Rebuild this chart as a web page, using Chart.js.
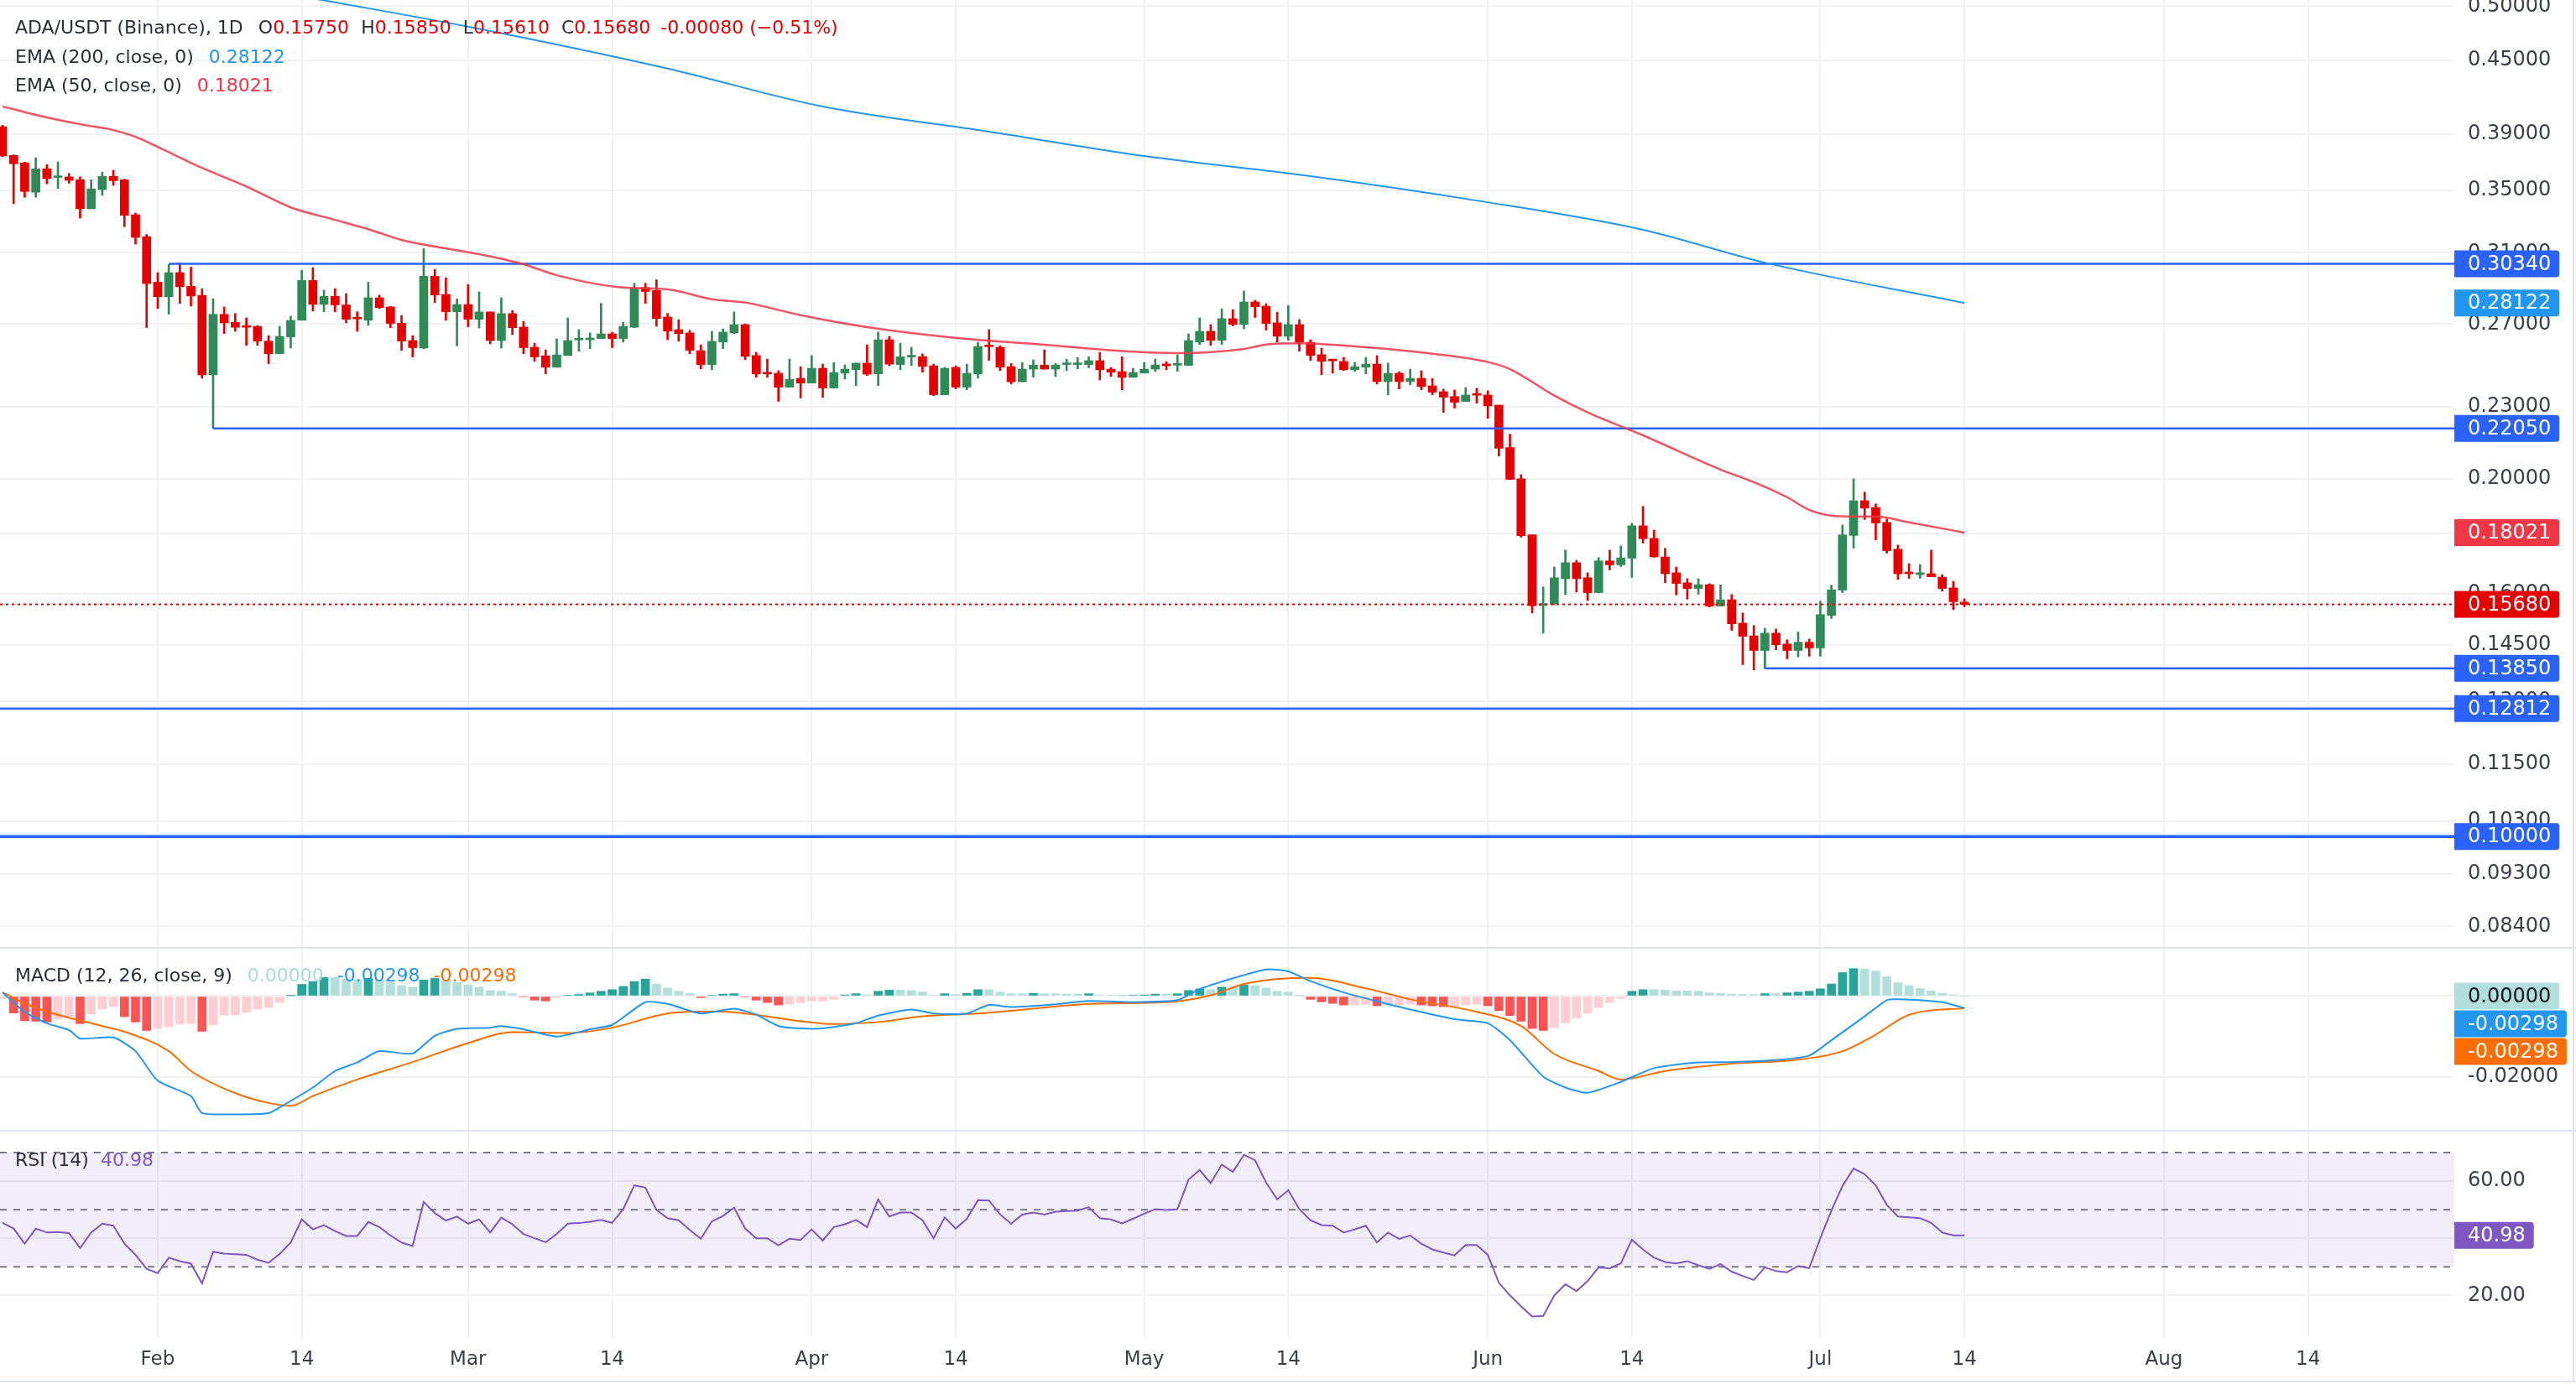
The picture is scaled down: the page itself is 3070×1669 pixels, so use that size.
<!DOCTYPE html>
<html>
<head>
<meta charset="utf-8">
<title>ADA/USDT (Binance) 1D</title>
<script src="https://cdn.jsdelivr.net/npm/chart.js@4.4.1/dist/chart.umd.min.js"></script>
<style>
html,body{margin:0;padding:0;background:#ffffff;}
#wrap{position:relative;width:3070px;height:1669px;overflow:hidden;background:#ffffff;font-family:"DejaVu Sans",sans-serif;}
canvas.pane{position:absolute;left:0;}
.leg{position:absolute;left:18px;font-size:22px;line-height:22px;color:#2a2e39;white-space:nowrap;}
.leg span{margin-left:14px;}
.leg b{font-weight:normal;}
.r{color:#e60000;}
.sep{position:absolute;left:0;width:3070px;height:2px;background:#e0e3eb;}
</style>
</head>
<body>
<div id="wrap">
  <canvas id="cPrice" class="pane" width="3070" height="1130" style="top:0px"></canvas>
  <canvas id="cMacd" class="pane" width="3070" height="216" style="top:1131px"></canvas>
  <canvas id="cRsi" class="pane" width="3070" height="298" style="top:1349px"></canvas>
  <div class="sep" style="top:1129px"></div>
  <div class="sep" style="top:1347px"></div>
  <div class="sep" style="top:1646px;height:2px"></div>
  <div style="position:absolute;left:3066px;top:0;width:2px;height:1648px;background:#e0e3eb"></div>

  <div class="leg" style="top:22px">ADA/USDT (Binance), 1D<span style="margin-left:18px">O<b class="r">0.15750</b></span><span>H<b class="r">0.15850</b></span><span>L<b class="r">0.15610</b></span><span>C<b class="r">0.15680</b></span><span class="r" style="margin-left:12px">-0.00080 (−0.51%)</span></div>
  <div class="leg" style="top:57px">EMA (200, close, 0)<span style="margin-left:18px;color:#2196f3">0.28122</span></div>
  <div class="leg" style="top:91px">EMA (50, close, 0)<span style="margin-left:18px;color:#f23645">0.18021</span></div>
  <div class="leg" style="top:1152px">MACD (12, 26, close, 9)<span style="margin-left:18px;color:#a8ddd4">0.00000</span><span style="margin-left:16px;color:#2196f3">-0.00298</span><span style="margin-left:16px;color:#ff6d00">-0.00298</span></div>
  <div class="leg" style="top:1372px">RSI (14)<span style="margin-left:14px;color:#7e57c2">40.98</span></div>
</div>
<script>
// ---------- DATA (day index 0 = Jan 18, one candle per day) ----------
const opens = [0.3958,0.3744,0.3690,0.3486,0.3648,0.3587,0.3591,0.3571,0.3376,0.3504,
0.3595,0.3571,0.3337,0.3198,0.2928,0.2847,0.2983,0.2905,0.2854,0.2447,
0.2751,0.2709,0.2690,0.2688,0.2612,0.2549,0.2633,0.2720,0.2938,0.2805,
0.2849,0.2802,0.2732,0.2720,0.2841,0.2791,0.2704,0.2615,0.2577,0.2962,
0.2859,0.2765,0.2804,0.2725,0.2764,0.2615,0.2755,0.2684,0.2581,0.2539,
0.2483,0.2540,0.2618,0.2619,0.2625,0.2649,0.2625,0.2683,0.2898,0.2881,
0.2737,0.2671,0.2654,0.2564,0.2496,0.2607,0.2654,0.2697,0.2540,0.2458,
0.2454,0.2389,0.2430,0.2408,0.2478,0.2385,0.2455,0.2471,0.2503,0.2451,
0.2619,0.2496,0.2533,0.2534,0.2490,0.2354,0.2482,0.2389,0.2451,0.2589,
0.2581,0.2486,0.2414,0.2474,0.2493,0.2474,0.2496,0.2496,0.2496,0.2515,
0.2474,0.2462,0.2435,0.2455,0.2474,0.2499,0.2493,0.2492,0.2607,0.2662,
0.2616,0.2728,0.2698,0.2818,0.2795,0.2706,0.2637,0.2697,0.2606,0.2544,
0.2519,0.2511,0.2471,0.2483,0.2498,0.2415,0.2454,0.2415,0.2430,0.2395,
0.2368,0.2346,0.2324,0.2357,0.2353,0.2307,0.2125,0.2000,0.1794,0.1565,
0.1570,0.1648,0.1700,0.1651,0.1604,0.1706,0.1693,0.1715,0.1826,0.1782,
0.1719,0.1667,0.1635,0.1617,0.1629,0.1563,0.1582,0.1512,0.1475,0.1434,
0.1483,0.1452,0.1434,0.1457,0.1441,0.1535,0.1612,0.1792,0.1917,0.1892,
0.1838,0.1745,0.1669,0.1661,0.1664,0.1653,0.1619,0.1575];
const highs = [0.3969,0.3748,0.3695,0.3727,0.3678,0.3697,0.3615,0.3591,0.3571,0.3624,
0.3638,0.3575,0.3348,0.3212,0.2983,0.3030,0.3040,0.3015,0.2892,0.2836,
0.2791,0.2756,0.2732,0.2692,0.2640,0.2688,0.2741,0.2997,0.3012,0.2883,
0.2892,0.2864,0.2765,0.2928,0.2856,0.2794,0.2745,0.2640,0.3125,0.3002,
0.2953,0.2835,0.2915,0.2874,0.2764,0.2841,0.2772,0.2713,0.2602,0.2568,
0.2623,0.2732,0.2671,0.2654,0.2811,0.2658,0.2710,0.2922,0.2922,0.2942,
0.2756,0.2723,0.2667,0.2593,0.2662,0.2675,0.2764,0.2701,0.2556,0.2523,
0.2466,0.2523,0.2486,0.2540,0.2498,0.2506,0.2494,0.2503,0.2593,0.2658,
0.2636,0.2602,0.2581,0.2548,0.2498,0.2482,0.2490,0.2498,0.2606,0.2671,
0.2589,0.2501,0.2506,0.2519,0.2568,0.2501,0.2522,0.2530,0.2534,0.2556,
0.2482,0.2534,0.2478,0.2506,0.2523,0.2510,0.2543,0.2649,0.2732,0.2697,
0.2781,0.2776,0.2878,0.2827,0.2809,0.2763,0.2799,0.2723,0.2619,0.2577,
0.2519,0.2531,0.2506,0.2531,0.2540,0.2503,0.2462,0.2474,0.2466,0.2430,
0.2380,0.2376,0.2387,0.2384,0.2372,0.2307,0.2181,0.2016,0.1794,0.1622,
0.1686,0.1742,0.1708,0.1667,0.1717,0.1742,0.1756,0.1835,0.1896,0.1811,
0.1748,0.1686,0.1648,0.1648,0.1632,0.1629,0.1598,0.1542,0.1505,0.1497,
0.1495,0.1464,0.1486,0.1466,0.1578,0.1627,0.1829,0.2000,0.1949,0.1905,
0.1850,0.1759,0.1697,0.1694,0.1742,0.1661,0.1640,0.1585];
const lows = [0.3734,0.3409,0.3452,0.3452,0.3543,0.3511,0.3547,0.3315,0.3376,0.3465,
0.3533,0.3261,0.3153,0.2681,0.2783,0.2752,0.2810,0.2796,0.2431,0.2205,
0.2650,0.2662,0.2591,0.2591,0.2500,0.2549,0.2577,0.2720,0.2769,0.2765,
0.2765,0.2706,0.2662,0.2693,0.2783,0.2681,0.2566,0.2533,0.2573,0.2815,
0.2720,0.2588,0.2685,0.2679,0.2598,0.2577,0.2645,0.2549,0.2512,0.2451,
0.2483,0.2540,0.2561,0.2574,0.2625,0.2579,0.2607,0.2681,0.2810,0.2688,
0.2619,0.2612,0.2549,0.2475,0.2471,0.2574,0.2650,0.2520,0.2435,0.2435,
0.2324,0.2389,0.2339,0.2408,0.2342,0.2385,0.2427,0.2396,0.2443,0.2396,
0.2491,0.2471,0.2491,0.2459,0.2350,0.2354,0.2381,0.2377,0.2431,0.2516,
0.2467,0.2404,0.2414,0.2435,0.2474,0.2439,0.2467,0.2475,0.2480,0.2423,
0.2439,0.2377,0.2435,0.2455,0.2463,0.2471,0.2463,0.2492,0.2595,0.2591,
0.2595,0.2690,0.2675,0.2734,0.2668,0.2607,0.2616,0.2561,0.2516,0.2447,
0.2455,0.2467,0.2463,0.2451,0.2404,0.2354,0.2381,0.2400,0.2377,0.2354,
0.2275,0.2294,0.2324,0.2316,0.2249,0.2090,0.1998,0.1786,0.1542,0.1483,
0.1566,0.1598,0.1606,0.1580,0.1604,0.1676,0.1687,0.1652,0.1766,0.1718,
0.1635,0.1597,0.1584,0.1599,0.1560,0.1563,0.1491,0.1395,0.1381,0.1385,
0.1436,0.1411,0.1416,0.1418,0.1418,0.1526,0.1604,0.1749,0.1848,0.1777,
0.1732,0.1646,0.1649,0.1649,0.1654,0.1609,0.1552,0.1561];
const closes = [0.3740,0.3684,0.3491,0.3648,0.3579,0.3595,0.3567,0.3376,0.3508,0.3595,
0.3565,0.3333,0.3194,0.2920,0.2847,0.2983,0.2902,0.2851,0.2447,0.2751,
0.2706,0.2683,0.2683,0.2612,0.2549,0.2636,0.2719,0.2938,0.2805,0.2849,
0.2802,0.2725,0.2727,0.2841,0.2787,0.2703,0.2612,0.2579,0.2962,0.2856,
0.2765,0.2804,0.2725,0.2764,0.2615,0.2755,0.2681,0.2579,0.2533,0.2483,
0.2543,0.2615,0.2623,0.2627,0.2649,0.2625,0.2688,0.2894,0.2876,0.2729,
0.2663,0.2650,0.2566,0.2496,0.2611,0.2658,0.2697,0.2536,0.2451,0.2451,
0.2389,0.2426,0.2408,0.2478,0.2385,0.2458,0.2474,0.2503,0.2450,0.2619,
0.2498,0.2534,0.2538,0.2487,0.2354,0.2478,0.2389,0.2454,0.2585,0.2584,
0.2483,0.2414,0.2474,0.2493,0.2474,0.2493,0.2503,0.2503,0.2515,0.2471,
0.2459,0.2435,0.2458,0.2474,0.2494,0.2490,0.2498,0.2615,0.2662,0.2616,
0.2728,0.2698,0.2818,0.2792,0.2703,0.2637,0.2697,0.2607,0.2541,0.2512,
0.2514,0.2471,0.2486,0.2498,0.2415,0.2454,0.2415,0.2430,0.2392,0.2366,
0.2343,0.2320,0.2353,0.2352,0.2304,0.2122,0.1998,0.1791,0.1564,0.1570,
0.1651,0.1700,0.1648,0.1604,0.1706,0.1693,0.1716,0.1826,0.1781,0.1719,
0.1664,0.1633,0.1617,0.1629,0.1563,0.1582,0.1510,0.1474,0.1434,0.1483,
0.1450,0.1434,0.1457,0.1441,0.1537,0.1613,0.1794,0.1917,0.1890,0.1836,
0.1740,0.1664,0.1664,0.1667,0.1654,0.1617,0.1576,0.1568];

const ema50Days = [0,3,7,10,12,14,18,22,26,30,33,36,43,47,50,56,60,64,67,72,78,87,94,102,106,112,114,117,123,129,134,136,140,143,148,155,158,161,163,165,167,169,172,177];
const ema50 = [0.4117,0.4050,0.3977,0.3932,0.3881,0.3806,0.3654,0.3525,0.3385,0.3304,0.3245,0.3178,0.3091,0.3032,0.2968,0.2898,0.2888,0.2833,0.2815,0.2747,0.2684,0.2623,0.2594,0.2559,0.2552,0.2573,0.2595,0.2601,0.2581,0.2549,0.2508,0.2474,0.2350,0.2275,0.2176,0.2036,0.1987,0.1930,0.1883,0.1862,0.1859,0.1859,0.1838,0.18021];
const ema200Days = [28,42,60,74,89,103,118,133,148,159,177];
const ema200 = [0.5076,0.4805,0.4430,0.4116,0.3920,0.3739,0.3596,0.3430,0.3241,0.3041,0.28122];

const levelValues = [0.3034,0.2205,0.1385,0.12812,0.1000];
const levelStartDays = [15,19,159,-1,-1];

const macdDays = [0,2,4,6,7,10,12,14,17,18,21,24,25,28,30,32,34,37,39,41,44,45,47,50,53,55,58,60,63,66,68,70,72,74,77,79,82,84,87,89,91,95,98,102,106,108,111,114,116,118,121,124,127,131,134,136,139,141,143,146,149,153,156,160,163,165,168,170,171,175,177];
const macdVals = [0.0009,-0.0039,-0.0067,-0.0084,-0.0105,-0.0102,-0.0136,-0.0209,-0.0247,-0.0289,-0.0292,-0.0289,-0.0275,-0.0226,-0.0185,-0.0164,-0.0136,-0.0142,-0.0098,-0.0081,-0.0078,-0.0074,-0.0082,-0.0100,-0.0082,-0.0071,-0.0015,-0.0019,-0.0043,-0.0031,-0.0046,-0.0074,-0.0080,-0.0080,-0.0067,-0.0048,-0.0033,-0.0043,-0.0043,-0.0022,-0.0027,-0.0020,-0.0012,-0.0015,-0.0010,0.0017,0.0044,0.0066,0.0061,0.0037,0.0009,-0.0013,-0.0033,-0.0057,-0.0067,-0.0109,-0.0199,-0.0226,-0.0239,-0.0212,-0.0178,-0.0164,-0.0163,-0.0158,-0.0147,-0.0109,-0.0050,-0.0010,-0.0008,-0.0015,-0.00298];
const signalDays = [0,3,9,11,15,17,21,24,26,28,32,37,42,46,51,55,60,64,67,72,75,79,83,88,93,98,105,109,112,116,118,123,127,133,137,140,144,146,150,156,162,166,169,172,177];
const signalVals = [0.0009,-0.0029,-0.0074,-0.0088,-0.0136,-0.0185,-0.0240,-0.0264,-0.0271,-0.0247,-0.0206,-0.0163,-0.0116,-0.0089,-0.0091,-0.0078,-0.0043,-0.0038,-0.0043,-0.0062,-0.0069,-0.0064,-0.0050,-0.0043,-0.0031,-0.0019,-0.0015,0.0002,0.0030,0.0044,0.0045,0.0019,-0.0008,-0.0039,-0.0074,-0.0143,-0.0185,-0.0206,-0.0185,-0.0167,-0.0157,-0.0136,-0.0095,-0.0046,-0.00298];
const histVals = [-0.0006,-0.0042,-0.0061,-0.0062,-0.0064,-0.0057,-0.0051,-0.0068,-0.0044,-0.0032,
-0.0026,-0.0051,-0.0064,-0.0085,-0.0080,-0.0076,-0.0069,-0.0068,-0.0087,-0.0071,
-0.0047,-0.0046,-0.0040,-0.0032,-0.0028,-0.0016,0.0001,0.0029,0.0036,0.0046,
0.0046,0.0042,0.0040,0.0044,0.0040,0.0034,0.0026,0.0022,0.0040,0.0044,
0.0038,0.0034,0.0028,0.0022,0.0014,0.0012,0.0006,-0.0002,-0.0010,-0.0012,
-0.0004,0.0002,0.0004,0.0008,0.0012,0.0016,0.0024,0.0036,0.0042,0.0030,
0.0020,0.0012,0.0006,-0.0004,0.0002,0.0005,0.0006,-0.0002,-0.0010,-0.0016,
-0.0022,-0.0020,-0.0016,-0.0012,-0.0012,-0.0008,0.0003,0.0006,0.0003,0.0012,
0.0015,0.0015,0.0014,0.0010,0.0002,0.0006,0.0004,0.0007,0.0016,0.0016,
0.0010,0.0006,0.0006,0.0007,0.0006,0.0006,0.0005,0.0005,0.0006,0.0003,
0.0002,0.0001,0.0002,0.0003,0.0005,0.0005,0.0006,0.0014,0.0018,0.0016,
0.0022,0.0022,0.0028,0.0026,0.0020,0.0012,0.0010,0.0001,-0.0008,-0.0014,
-0.0018,-0.0022,-0.0022,-0.0020,-0.0024,-0.0022,-0.0022,-0.0020,-0.0022,-0.0024,
-0.0026,-0.0026,-0.0022,-0.0020,-0.0024,-0.0036,-0.0048,-0.0062,-0.0080,-0.0085,
-0.0078,-0.0066,-0.0054,-0.0042,-0.0028,-0.0016,-0.0006,0.0012,0.0016,0.0016,
0.0015,0.0013,0.0013,0.0012,0.0008,0.0007,0.0005,0.0004,0.0004,0.0006,
0.0006,0.0008,0.0010,0.0012,0.0018,0.0030,0.0058,0.0068,0.0067,0.0062,
0.0048,0.0033,0.0026,0.0019,0.0013,0.0007,0.0003,0.0000];

const rsiVals = [45.4,43.4,38.1,43.4,42.0,42.2,41.8,36.6,42.0,45.1,
44.4,38.1,34.2,29.3,27.8,33.2,32.0,31.1,24.2,35.3,
34.6,34.4,34.2,32.5,31.4,34.5,38.5,46.6,43.1,44.6,
42.5,40.8,40.8,45.7,43.9,41.0,38.5,37.3,52.7,48.8,
46.2,47.6,45.1,46.6,42.0,47.2,44.9,41.5,40.0,38.6,
41.5,45.1,45.3,45.8,46.4,45.4,50.2,58.5,57.7,49.9,
47.0,46.3,42.9,39.8,45.9,47.8,50.7,43.4,40.0,40.0,
37.5,39.8,39.4,43.1,39.2,43.9,44.9,46.4,43.9,53.6,
47.6,49.0,49.0,46.3,40.0,47.3,43.4,46.8,53.3,53.2,
48.3,45.1,48.3,49.0,48.3,49.3,49.5,49.7,50.9,47.0,
46.6,45.2,46.8,48.6,50.2,49.9,50.2,60.5,63.9,59.3,
65.8,63.2,69.2,67.3,59.5,53.6,56.8,50.2,46.3,44.6,
44.4,42.0,43.1,44.4,38.5,42.0,39.8,41.0,38.1,36.1,
35.0,34.0,37.6,37.6,34.2,24.4,20.0,16.2,12.6,12.8,
20.0,23.9,21.5,25.0,29.8,29.5,31.2,39.5,36.1,33.2,
31.7,31.2,32.0,30.5,29.3,31.0,28.3,26.8,25.4,29.8,
28.5,28.1,30.3,29.5,40.0,49.7,58.3,64.4,62.4,58.5,
51.7,47.6,47.3,47.0,45.4,42.0,41.0,40.98];
const rsiLevels = [70,50,30];

const monthTicks = [14,27,42,55,73,86,103,116,134,147,164,177,195,208];
const monthLabels = ['Feb','14','Mar','14','Apr','14','May','14','Jun','14','Jul','14','Aug','14'];
const priceTicks = [0.5,0.45,0.39,0.35,0.31,0.27,0.23,0.2,0.18,0.16,0.145,0.13,0.115,0.103,0.093,0.084];
const macdTicks = [-0.02,0];
const rsiTicks = [20,40,60];

// ---------- STYLE / LAYOUT ----------
const X_MIN = -0.227, X_MAX = 221.2;
const AXIS_W = 145;
const GREEN = '#2e8b57', RED = '#e60000';
const GRID = '#f0f1f4';
const FONT = 'DejaVu Sans';
const TXT = '#3b3f4a';

function xAxis(showLabels, h) {
  return {
    type: 'linear', min: X_MIN, max: X_MAX, offset: false,
    afterBuildTicks: s => { s.ticks = monthTicks.map(v => ({value: v})); },
    afterFit: s => { s.height = h; s.paddingLeft = 0; s.paddingRight = 0; s.paddingTop = 0; s.paddingBottom = 0; },
    grid: {color: GRID, lineWidth: 2, drawTicks: false, offset: false},
    border: {display: false},
    ticks: {display: showLabels, autoSkip: false, maxRotation: 0, padding: 12, color: TXT,
      font: {family: FONT, size: 23},
      callback: v => { const i = monthTicks.indexOf(v); return i >= 0 ? monthLabels[i] : ''; }}
  };
}
function yAxis(type, min, max, ticks, fmt) {
  return {
    type: type, position: 'right', min: min, max: max,
    afterBuildTicks: s => { s.ticks = ticks.map(v => ({value: v})); },
    afterFit: s => { s.width = AXIS_W; s.paddingTop = 0; s.paddingBottom = 0; s.paddingLeft = 0; s.paddingRight = 0; },
    grid: {color: GRID, lineWidth: 2, drawTicks: false},
    border: {display: false},
    ticks: {autoSkip: false, padding: 16, color: TXT, font: {family: FONT, size: 24}, callback: fmt}
  };
}
function boxPlugin(id, items) {
  return {id: id, afterDraw(chart) {
    const ctx = chart.ctx, ys = chart.scales.y, a = chart.chartArea;
    ctx.save();
    ctx.font = '24px "' + FONT + '"';
    ctx.textBaseline = 'middle'; ctx.textAlign = 'left';
    let prev = -1e9;
    items.forEach(it => {
      let cy = ys.getPixelForValue(it.value);
      if (it.stack && cy < prev + 33) cy = prev + 33;
      prev = cy;
      const w = ctx.measureText(it.text).width + 26;
      ctx.fillStyle = it.bg;
      ctx.beginPath();
      ctx.roundRect(a.right, cy - 16, w, 32, [0, 4, 4, 0]);
      ctx.fill();
      ctx.fillStyle = it.fg || '#ffffff';
      ctx.fillText(it.text, a.right + 16, cy + 1);
    });
    ctx.restore();
  }};
}
const baseOpts = {
  responsive: false, animation: false, devicePixelRatio: 1,
  layout: {padding: 0},
  plugins: {legend: {display: false}, tooltip: {enabled: false}},
  events: []
};

// ---------- PRICE PANE ----------
const N = closes.length;
const cColors = closes.map((c, i) => c >= opens[i] ? GREEN : RED);
const lastClose = closes[N - 1];
const priceDatasets = [
  {type: 'bar', label: 'wicks', data: closes.map((c, i) => ({x: i, y: [lows[i], highs[i]]})),
   backgroundColor: cColors, barThickness: 2, grouped: false, order: 5, borderWidth: 0},
  {type: 'bar', label: 'bodies', data: closes.map((c, i) => ({x: i, y: [opens[i], c]})),
   backgroundColor: cColors, barThickness: 10, minBarLength: 2, grouped: false, order: 4, borderWidth: 0},
  {type: 'line', label: 'EMA200', data: ema200Days.map((d, i) => ({x: d, y: ema200[i]})),
   borderColor: '#2196f3', borderWidth: 2, pointRadius: 0, cubicInterpolationMode: 'monotone', order: 1},
  {type: 'line', label: 'EMA50', data: ema50Days.map((d, i) => ({x: d, y: ema50[i]})),
   borderColor: 'rgba(242,54,69,0.85)', borderWidth: 2.5, pointRadius: 0, cubicInterpolationMode: 'monotone', order: 1},
  {type: 'line', label: 'last', data: [{x: X_MIN, y: lastClose}, {x: X_MAX, y: lastClose}],
   borderColor: RED, borderWidth: 2, borderDash: [3, 4], pointRadius: 0, order: 0}
];
levelValues.forEach((v, k) => {
  priceDatasets.push({type: 'line', label: 'level' + k,
    data: [{x: levelStartDays[k], y: v}, {x: X_MAX, y: v}],
    borderColor: '#2962ff', borderWidth: v === 0.1 ? 3.5 : 2.5, pointRadius: 0, order: 2});
});
const priceLabels = [
  {value: levelValues[0], text: levelValues[0].toFixed(5), bg: '#2962ff'},
  {value: ema200[ema200.length - 1], text: ema200[ema200.length - 1].toFixed(5), bg: '#2196f3'},
  {value: levelValues[1], text: levelValues[1].toFixed(5), bg: '#2962ff'},
  {value: ema50[ema50.length - 1], text: ema50[ema50.length - 1].toFixed(5), bg: '#f23645'},
  {value: lastClose, text: lastClose.toFixed(5), bg: RED},
  {value: levelValues[2], text: levelValues[2].toFixed(5), bg: '#2962ff'},
  {value: levelValues[3], text: levelValues[3].toFixed(5), bg: '#2962ff'},
  {value: levelValues[4], text: levelValues[4].toFixed(5), bg: '#2962ff'}
];
new Chart(document.getElementById('cPrice'), {
  type: 'bar',
  data: {datasets: priceDatasets},
  options: Object.assign({}, baseOpts, {
    scales: {
      x: xAxis(false, 0),
      y: yAxis('logarithmic', 0.08057, 0.5060, priceTicks, v => Number(v).toFixed(5))
    }
  }),
  plugins: [boxPlugin('pl', priceLabels)]
});

// ---------- MACD PANE ----------
const histColors = histVals.map((v, i) => {
  const p = i > 0 ? histVals[i - 1] : v;
  if (v >= 0) return v > p ? '#26a69a' : '#b2dfdb';
  return v < p ? '#ff5252' : '#ffcdd2';
});
new Chart(document.getElementById('cMacd'), {
  type: 'bar',
  data: {datasets: [
    {type: 'bar', data: histVals.map((v, i) => ({x: i, y: v})), backgroundColor: histColors,
     barThickness: 10, grouped: false, order: 3, borderWidth: 0},
    {type: 'line', data: macdDays.map((d, i) => ({x: d, y: macdVals[i]})), borderColor: '#2196f3',
     borderWidth: 2, pointRadius: 0, tension: 0.2, order: 1},
    {type: 'line', data: signalDays.map((d, i) => ({x: d, y: signalVals[i]})), borderColor: '#ff6d00',
     borderWidth: 2, pointRadius: 0, cubicInterpolationMode: 'monotone', order: 2}
  ]},
  options: Object.assign({}, baseOpts, {
    scales: {
      x: xAxis(false, 0),
      y: yAxis('linear', -0.03306, 0.01171, macdTicks, v => Number(v).toFixed(5))
    }
  }),
  plugins: [boxPlugin('ml', [
    {value: histVals[N - 1], text: histVals[N - 1].toFixed(5), bg: '#b2dfdb', fg: '#131722', stack: true},
    {value: macdVals[macdVals.length - 1], text: macdVals[macdVals.length - 1].toFixed(5), bg: '#2196f3', stack: true},
    {value: signalVals[signalVals.length - 1], text: signalVals[signalVals.length - 1].toFixed(5), bg: '#ff6d00', stack: true}
  ])]
});

// ---------- RSI PANE ----------
const bandPlugin = {id: 'band', beforeDatasetsDraw(chart) {
  const {ctx, chartArea: a, scales: {y}} = chart;
  const y1 = y.getPixelForValue(rsiLevels[0]), y2 = y.getPixelForValue(rsiLevels[2]);
  ctx.save();
  ctx.fillStyle = 'rgba(126,87,194,0.1)';
  ctx.fillRect(a.left, y1, a.right - a.left, y2 - y1);
  ctx.restore();
}};
const rsiDatasets = [
  {type: 'line', data: rsiVals.map((v, i) => ({x: i, y: v})), borderColor: '#7e57c2',
   borderWidth: 2, pointRadius: 0, tension: 0, order: 1}
];
rsiLevels.forEach(l => rsiDatasets.push({type: 'line', data: [{x: X_MIN, y: l}, {x: X_MAX, y: l}],
  borderColor: '#787b86', borderWidth: 2, borderDash: [8, 8], pointRadius: 0, order: 2}));
new Chart(document.getElementById('cRsi'), {
  type: 'line',
  data: {datasets: rsiDatasets},
  options: Object.assign({}, baseOpts, {
    scales: {
      x: xAxis(true, 52),
      y: yAxis('linear', 5.11, 77.34, rsiTicks, v => Number(v).toFixed(2))
    }
  }),
  plugins: [bandPlugin, boxPlugin('rl', [
    {value: rsiVals[N - 1], text: rsiVals[N - 1].toFixed(2), bg: '#7e57c2'}
  ])]
});
</script>
</body>
</html>
